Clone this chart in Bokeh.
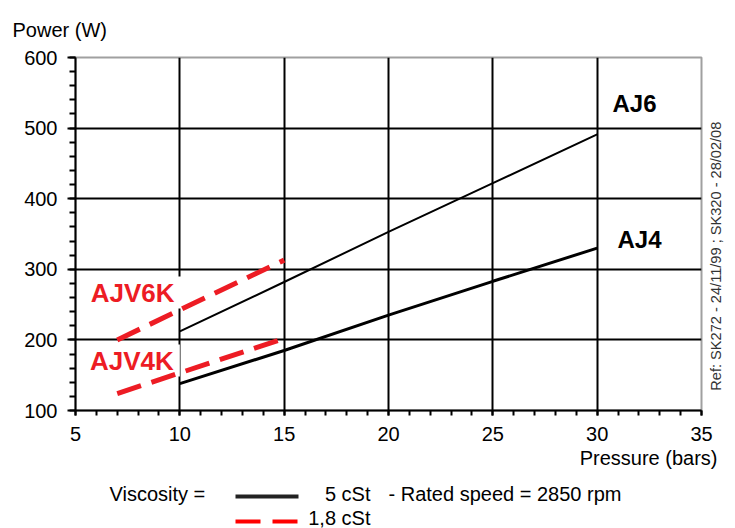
import math
from bokeh.plotting import figure
from bokeh.models import Range1d, FixedTicker, Label, LinearAxis, Title
from bokeh.layouts import column
from bokeh.embed import file_html
from bokeh.resources import INLINE

# ---- data ----
pressure_aj = [10, 15, 20, 25, 30]
power_aj6 = [212, 282, 353, 422, 491]
power_aj4 = [138, 185, 235, 283, 330]
pressure_ajv = [7, 15]
power_ajv6k = [200, 313]
power_ajv4k = [124, 202]

x_ticks = [5, 10, 15, 20, 25, 30, 35]
x_minor = list(range(5, 36))
y_ticks = [100, 200, 300, 400, 500, 600]
y_minor = list(range(100, 601, 20))
x_grid = [10, 15, 20, 25, 30]
y_grid = [200, 300, 400, 500]

RED = "#ed1c24"
FONT = "Liberation Sans"
FS = "20px"
REF_TEXT = "Ref: SK272 - 24/11/99 ; SK320 - 28/02/08"

P_TOP, P_FH, P_BOTTOM = 57, 353, 70
p = figure(frame_width=626, frame_height=P_FH,
           min_border_left=75, min_border_right=34,
           min_border_top=P_TOP, min_border_bottom=P_BOTTOM,
           x_range=Range1d(5, 35), y_range=Range1d(100, 600),
           toolbar_location=None, output_backend="svg")
p.background_fill_color = "white"
p.border_fill_color = "white"
p.outline_line_color = "#a0a0a0"
p.outline_line_width = 2
p.title.visible = False

# axes
for ax in (p.xaxis[0], p.yaxis[0]):
    ax.axis_line_color = "black"
    ax.axis_line_width = 2
    ax.major_tick_line_color = "black"
    ax.minor_tick_line_color = "black"
    ax.major_tick_line_width = 2
    ax.minor_tick_line_width = 2
    ax.major_tick_in = 0
    ax.minor_tick_in = 0
    ax.major_label_text_font = FONT
    ax.major_label_text_font_size = FS
    ax.major_label_text_color = "black"

p.xaxis.ticker = FixedTicker(ticks=x_ticks, minor_ticks=x_minor)
p.yaxis.ticker = FixedTicker(ticks=y_ticks, minor_ticks=y_minor)
p.xaxis.major_tick_out = 5
p.xaxis.minor_tick_out = 5
p.xaxis.major_label_standoff = 11
p.yaxis.major_tick_out = 8
p.yaxis.minor_tick_out = 6
p.yaxis.major_label_standoff = 10

# grid
p.xgrid.ticker = FixedTicker(ticks=x_grid)
p.ygrid.ticker = FixedTicker(ticks=y_grid)
for g in (p.xgrid[0], p.ygrid[0]):
    g.grid_line_color = "black"
    g.grid_line_width = 2
    g.grid_line_alpha = 1.0

# lines
r1 = p.line(pressure_aj, power_aj6, line_color="black", line_width=2)
r2 = p.line(pressure_aj, power_aj4, line_color="black", line_width=3)
r3 = p.line(pressure_ajv, power_ajv6k, line_color=RED, line_width=5, line_dash="25 11")
r4 = p.line(pressure_ajv, power_ajv4k, line_color=RED, line_width=5, line_dash="25 11")
for r in (r1, r2, r3, r4):
    r.level = "overlay"

# in-plot labels
def lab(x, y, text, **kw):
    opts = dict(text_font=FONT, text_font_size=FS, text_color="black",
                text_align="center", text_baseline="middle")
    opts.update(kw)
    p.add_layout(Label(x=x, y=y, text=text, **opts))

lab(31.79, 534.8, "AJ6", text_font_style="bold", text_font_size="24px")
lab(32.03, 342.2, "AJ4", text_font_style="bold", text_font_size="24px")
lab(10.08, 267.1, "AJV6K", text_font_style="bold", text_font_size="26px",
    text_color=RED, text_align="right", background_fill_color="white",
    padding=dict(left=4, right=7, top=1, bottom=1))
lab(10.0, 170.8, "AJV4K", text_font_style="bold", text_font_size="26px",
    text_color=RED, text_align="right", background_fill_color="white",
    padding=dict(left=4, right=6, top=1, bottom=1))

# "Power (W)" at the top, pushed up by the title standoff
p.add_layout(Title(text="Power (W)", align="left", offset=-63, standoff=30,
                   vertical_align="top",
                   text_font=FONT, text_font_size=FS, text_font_style="normal",
                   text_color="black"), "above")

# "Pressure (bars)" below the x axis, right aligned
p.add_layout(Title(text="Pressure (bars)", align="right", offset=-16, standoff=2,
                   text_font=FONT, text_font_size=FS, text_font_style="normal",
                   text_color="black"), "below")

# vertical reference text on the right (a rotated tick label)
ref_axis = LinearAxis(ticker=FixedTicker(ticks=[128]),
                      major_label_overrides={128: REF_TEXT},
                      major_label_orientation=math.pi / 2,
                      axis_line_color=None,
                      major_tick_line_color=None, minor_tick_line_color=None,
                      major_tick_out=0, minor_tick_out=0, major_tick_in=0,
                      major_label_standoff=15, major_label_text_font=FONT,
                      major_label_text_font_size="14.6px",
                      major_label_text_color="#333333")
p.add_layout(ref_axis, "right")

# ---- legend strip (x = page pixels, y = pixels from strip top) ----
QH = 48
q = figure(frame_width=626, frame_height=QH,
           min_border_left=75, min_border_right=34,
           min_border_top=0, min_border_bottom=0,
           x_range=Range1d(75, 701), y_range=Range1d(QH, 0),
           x_axis_location=None, y_axis_location=None,
           toolbar_location=None, output_backend="svg")
q.grid.grid_line_color = None
q.outline_line_color = None
q.background_fill_color = "white"
q.border_fill_color = "white"

q.line([235, 298], [16, 16], line_color="#222222", line_width=4)
q.line([235, 298], [41, 41], line_color="#ff0000", line_width=4, line_dash="25 12")

def qlab(x, y, text, **kw):
    opts = dict(text_font=FONT, text_font_size=FS, text_color="black",
                text_align="left", text_baseline="middle")
    opts.update(kw)
    q.add_layout(Label(x=x, y=y, text=text, **opts))

qlab(109, 13, "Viscosity =")
qlab(370, 13, "5 cSt", text_align="right")
qlab(388, 13, "- Rated speed = 2850 rpm")
qlab(370, 37, "1,8 cSt", text_align="right")

layout = column(p, q, spacing=0)
open("out.html", "w").write(file_html(layout, INLINE))
